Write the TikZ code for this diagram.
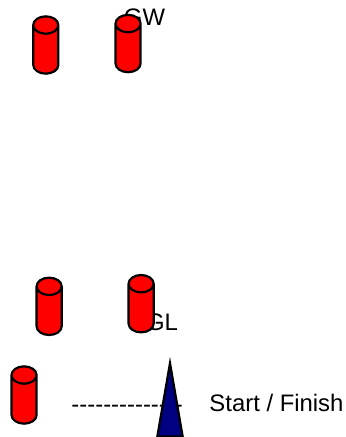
\documentclass[tikz,border=0pt]{standalone}
\usepackage{fontspec}
\usetikzlibrary{positioning,shapes.geometric}
\newfontfamily\labelfont{Liberation Sans}
\tikzset{
  course/.style={font=\labelfont\fontsize{17.9pt}{20pt}\selectfont, inner sep=0pt, outer sep=0pt},
  gate/.style={cylinder, shape border rotate=90, draw=black, line width=1.65pt, fill=red,
    shape aspect=0.75, minimum width=18.8pt, minimum height=43pt, inner sep=8.7pt, outer sep=0pt},
  marker/.style={isosceles triangle, shape border rotate=90, isosceles triangle stretches,
    draw=black, line width=1.65pt, fill=navyblue, minimum width=19pt, minimum height=55pt,
    inner sep=0pt, outer sep=0pt},
}
\definecolor{navyblue}{HTML}{000080}
\begin{document}
\begin{tikzpicture}[x=0.75pt, y=0.75pt]
\useasboundingbox (0,0) rectangle (346,-437);

\node[course, anchor=base] (gw) at (144.5,-25) {GW};
\node[course, anchor=base] (gl) at (162,-330) {GL};
\node[course, anchor=base west] (dashes) at (71.5,-412.5) {--------------};
\node[course, anchor=base west] (start) at (209.5,-411.5) {Start / Finish};

\node[gate, anchor=shape center] (gwleft) at (45.8,-45) {};
\node[gate, on grid, above right=1.1pt and 61.7pt of gwleft] (gwright) {};
\node[gate, on grid, below=196pt of gwleft, xshift=2.5pt] (glleft) {};
\node[gate, on grid, above right=2pt and 69pt of glleft] (glright) {};
\node[gate, on grid, below=66.5pt of glleft, xshift=-18.8pt] (startgate) {};
\node[marker, anchor=south] (boat) at (170,-436.5) {};
\end{tikzpicture}
\end{document}
